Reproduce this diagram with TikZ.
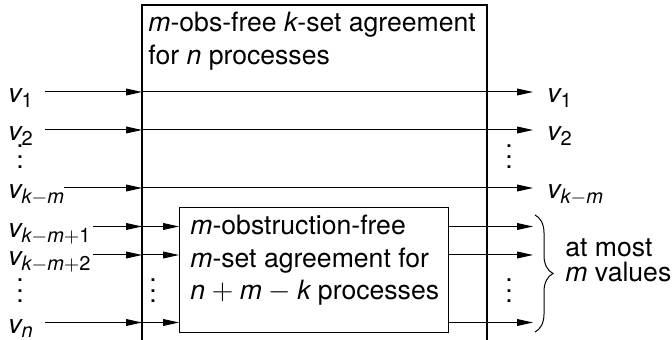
\documentclass[tikz,border=0pt]{standalone}
\usepackage{mathspec}
\setmainfont{TeX Gyre Heros}
\setmathsfont(Digits,Latin){TeX Gyre Heros}
\DeclareMathSizes{13.3}{13.3}{10}{7.5}
\usetikzlibrary{arrows.meta,decorations.pathreplacing}

% three stacked dots, a bit looser than \vdots
\newcommand{\colDots}{\vbox{\baselineskip=5.3pt\lineskiplimit=-10pt\hbox{.}\hbox{.}\hbox{.}}}

\tikzset{
  flow/.style={line width=0.5pt,-{Triangle[length=8pt,width=3.4pt]}},
  frame/.style={line width=0.6pt},
  vlabel/.style={anchor=base west,inner sep=0pt,yshift=-5.5pt},
  boxtext/.style={anchor=base west,inner sep=0pt},
  dots/.style={inner sep=0pt},
}

\begin{document}
\begin{tikzpicture}[x=0.5pt,y=-0.5pt,font=\fontsize{13.3}{16}\selectfont]
\useasboundingbox (0,0) rectangle (672,340);
%\draw[help lines, step=20] (0,0) grid (672,340);

% outer block (open at the bottom)
\coordinate(bigSW) at (142,340);
\coordinate(bigNW) at (142,5);
\coordinate(bigNE) at (487,5);
\coordinate(bigSE) at (487,340);
\draw[frame](bigSW)--(bigNW)--(bigNE)--(bigSE);
\node[boxtext](title1) at (148,32) {$m$-obs-free $k$-set agreement};
\node[boxtext](title2) at (148,65) {for $n$ processes};

% inner block
\node[draw,frame,anchor=north west,inner sep=0pt,minimum width=134.5pt,minimum height=62.5pt](mof) at (179,207) {};
\node[boxtext](mof1) at (190,235) {$m$-obstruction-free};
\node[boxtext](mof2) at (190,268) {$m$-set agreement for};
\node[boxtext](mof3) at (190,300) {$n+m-k$ processes};

% inputs
\node[vlabel](v1) at (8,92) {$v_1$};
\node[vlabel](v2) at (8,130) {$v_2$};
\node[vlabel](vkm) at (8,188) {$v_{k-m}$};
\node[vlabel](vkma) at (8,226.5) {$v_{k-m+1}$};
\node[vlabel](vkmb) at (8,255) {$v_{k-m+2}$};
\node[vlabel](vn) at (8,322.5) {$v_n$};

\coordinate(s1) at (45,92);
\coordinate(s2) at (45,130);
\coordinate(s3) at (64,188);
\coordinate(s4) at (93,226.5);
\coordinate(s5) at (93,255);
\coordinate(s6) at (45,322.5);

% outputs
\coordinate(e1) at (533,92);
\coordinate(e2) at (533,130);
\coordinate(e3) at (533,188);
\coordinate(e4) at (533,226.5);
\coordinate(e5) at (533,255);
\coordinate(e6) at (533,322.5);
\node[vlabel](w1) at (547,92) {$v_1$};
\node[vlabel](w2) at (547,130) {$v_2$};
\node[vlabel](wkm) at (547,188) {$v_{k-m}$};

% dots
\node[dots](d1) at (20,157) {\colDots};
\node[dots](d2) at (20,291) {\colDots};
\node[dots](d3) at (153,291) {\colDots};
\node[dots](d4) at (509,157) {\colDots};
\node[dots](d5) at (509,291) {\colDots};

% values passing straight through
\draw[flow](s1)--(s1-|bigNW);
\draw[flow](s1-|bigNW)--(e1);
\draw[flow](s2)--(s2-|bigNW);
\draw[flow](s2-|bigNW)--(e2);
\draw[flow](s3)--(s3-|bigNW);
\draw[flow](s3-|bigNW)--(e3);

% values going through the inner block
\draw[flow](s4)--(s4-|bigNW);
\draw[flow](s4-|bigNW)--(s4-|mof.west);
\draw[flow](s4-|mof.east)--(e4);
\draw[flow](s5)--(s5-|bigNW);
\draw[flow](s5-|bigNW)--(s5-|mof.west);
\draw[flow](s5-|mof.east)--(e5);
\draw[flow](s6)--(s6-|bigNW);
\draw[flow](s6-|bigNW)--(s6-|mof.west);
\draw[flow](s6-|mof.east)--(e6);

% brace on the lower outputs
\coordinate(b1) at (535,215);
\coordinate(b2) at (535,332);
\draw[line width=0.5pt,decorate,decoration={brace,amplitude=9pt}](b1)--(b2);
\node[boxtext](most1) at (565,257) {at most};
\node[boxtext](most2) at (565,282) {$m$ values};
\end{tikzpicture}
\end{document}
